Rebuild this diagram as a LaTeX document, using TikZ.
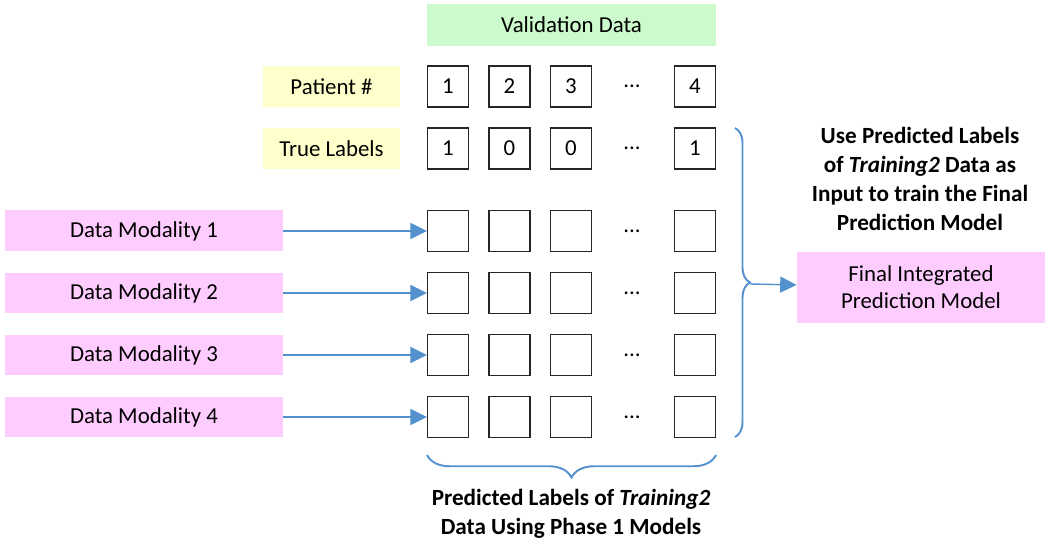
\documentclass[tikz,border=0pt]{standalone}
\usepackage{fontspec}
\setmainfont{Carlito}
\usetikzlibrary{positioning, arrows.meta, decorations.pathreplacing, calc}
\definecolor{valgreen}{RGB}{204,250,204}
\definecolor{modpink}{RGB}{255,204,255}
\definecolor{labyellow}{RGB}{255,255,204}
\definecolor{linkblue}{RGB}{84,146,206}
\tikzset{
  cell/.style={draw=black!85, line width=0.7pt, minimum width=0.82cm, minimum height=0.82cm, inner sep=0pt},
  modbox/.style={fill=modpink, minimum width=5.56cm, minimum height=0.82cm, inner sep=0pt},
  labbox/.style={fill=labyellow, minimum width=2.74cm, minimum height=0.82cm, inner sep=0pt},
  link/.style={draw=linkblue, line width=0.8pt, -{Triangle[length=0.33cm, width=0.32cm]}},
  bracepath/.style={draw=linkblue, line width=1.1pt, decorate},
  boldtext/.style={font=\fontsize{13.2}{16.4}\selectfont\bfseries, align=center}
}
\begin{document}
\begin{tikzpicture}[x=0.02cm, y=-0.02cm, font=\fontsize{13}{15.5}\selectfont]
\useasboundingbox (0,0) rectangle (1050,546);
\node[fill=valgreen, minimum width=5.78cm, minimum height=0.84cm] (valdata) at (571.5,25) {Validation Data};
\node[labbox] (patient) at (331.5,86.5) {Patient \#};
\node[labbox] (truelab) at (331.5,148.5) {True Labels};
% patients and their true labels
\foreach \x/\p/\t [count=\i] in {448/1/1, 509.5/2/0, 571/3/0, 695/4/1} {
  \node[cell] (p\i) at (\x,86.5) {\p};
  \node[cell] (t\i) at (\x,148.5) {\t};
}
\node (pdots) at (632,86.5) {...};
\node (tdots) at (632,148.5) {...};
% one row of predicted labels per modality
\foreach \y [count=\r] in {231,293,355,417} {
  \node[modbox] (mod\r) at (144,\y) {Data Modality \r};
  \foreach \x [count=\c] in {448,509.5,571,695}
    \node[cell] (s\r\c) at (\x,\y) {};
  \node (sdots\r) at (632,\y) {...};
  \draw[link] (mod\r) -- (s\r1);
}
% right brace to the final model
\draw[bracepath, decoration={brace, amplitude=0.3cm}] (735,128) -- (735,437);
\coordinate (rtip) at (750,284);
\node[fill=modpink, minimum width=4.96cm, minimum height=1.42cm, align=center] (final) at (921,287.5) {Final Integrated\\Prediction Model};
\draw[link] (rtip) -- (final);
\node[boldtext] (usetext) at (920,179) {Use Predicted Labels\\of \textit{Training2} Data as\\Input to train the Final\\Prediction Model};
% bottom brace
\draw[bracepath, decoration={brace, amplitude=0.45cm}] (716,455) -- (427,455);
\node[boldtext] (predtext) at (571,514) {Predicted Labels of \textit{Training2}\\Data Using Phase 1 Models};
\end{tikzpicture}
\end{document}
